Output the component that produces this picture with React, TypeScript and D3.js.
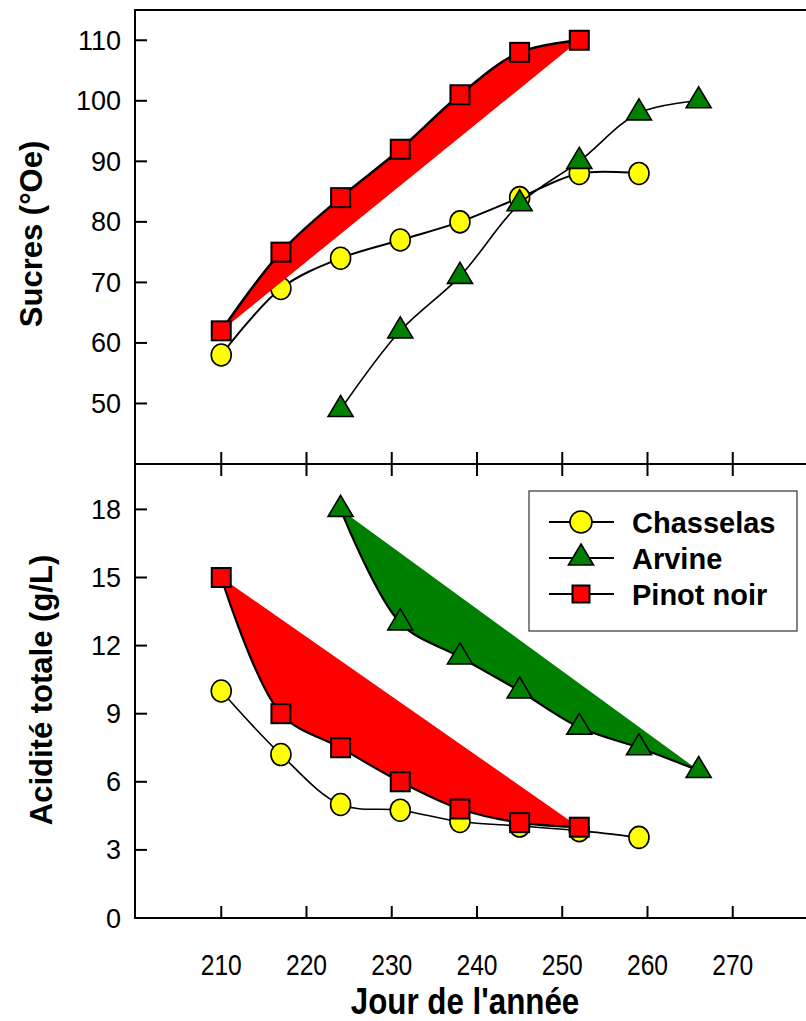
import React from "react";
import * as d3 from "d3";

const chasselasDays = [210, 217, 224, 231, 238, 245, 252, 259];
const arvineDays = [224, 231, 238, 245, 252, 259, 266];
const pinotDays = [210, 217, 224, 231, 238, 245, 252];

const chasselasSucres = [58, 69, 74, 77, 80, 84, 88, 88];
const arvineSucres = [49, 62, 71, 83, 90, 98, 100];
const pinotSucres = [62, 75, 84, 92, 101, 108, 110];

const chasselasAcid = [10.0, 7.2, 5.0, 4.75, 4.25, 4.05, 3.85, 3.55];
const arvineAcid = [18, 13, 11.5, 10, 8.4, 7.5, 6.5];
const pinotAcid = [15, 9, 7.5, 6, 4.8, 4.2, 4.0];

const xTicks = [210, 220, 230, 240, 250, 260, 270];
const sucresTicks = [50, 60, 70, 80, 90, 100, 110];
const acidTicks = [0, 3, 6, 9, 12, 15, 18];

const legendNames = ["Chasselas", "Arvine", "Pinot noir"];

const W = 806;
const H = 1021;
const FONT = "'Liberation Sans', Arial, Helvetica, sans-serif";
const YELLOW = "#FFFF00";
const GREEN = "#008000";
const RED = "#FF0000";

const left = 135;
const right = 818;
const topY0 = 10;
const midY = 464;
const botY1 = 918;
const TICK = 12;
const TICK_FS = 27;

const x = d3.scaleLinear().domain([200, 280]).range([136, 818]);
const yTop = d3.scaleLinear().domain([40, 115]).range([midY, topY0]);
const yBot = d3.scaleLinear().domain([0, 20]).range([botY1, midY]);

type Pt = [number, number];

function pts(days: number[], vals: number[], y: d3.ScaleLinear<number, number>): Pt[] {
  return days.map((d, i) => [x(d), y(vals[i])] as Pt);
}

const lineGen = d3.line<Pt>().x((p) => p[0]).y((p) => p[1]).curve(d3.curveCatmullRom.alpha(0.5));

function Circle({ cx, cy, rx = 10, ry = 11 }: { cx: number; cy: number; rx?: number; ry?: number }) {
  return <ellipse cx={cx} cy={cy} rx={rx} ry={ry} fill={YELLOW} stroke="#000" strokeWidth={1.6} />;
}
function Square({ cx, cy, s = 19 }: { cx: number; cy: number; s?: number }) {
  return <rect x={cx - s / 2} y={cy - s / 2} width={s} height={s} fill={RED} stroke="#000" strokeWidth={2} />;
}
function Triangle({ cx, cy, w = 25, h = 21 }: { cx: number; cy: number; w?: number; h?: number }) {
  const d = `M${cx},${cy - (h * 2) / 3}L${cx + w / 2},${cy + h / 3}L${cx - w / 2},${cy + h / 3}Z`;
  return <path d={d} fill={GREEN} stroke="#000" strokeWidth={1.6} strokeLinejoin="miter" />;
}

function Series({
  points,
  marker,
  fill,
  width,
}: {
  points: Pt[];
  marker: "c" | "t" | "s";
  fill?: string;
  width: number;
}) {
  const d = lineGen(points) || "";
  return (
    <g>
      {fill && <path d={d + "Z"} fill={fill} stroke="none" />}
      <path d={d} fill="none" stroke="#000" strokeWidth={width} />
      {points.map((p, i) =>
        marker === "c" ? (
          <Circle key={i} cx={p[0]} cy={p[1]} />
        ) : marker === "t" ? (
          <Triangle key={i} cx={p[0]} cy={p[1]} />
        ) : (
          <Square key={i} cx={p[0]} cy={p[1]} />
        )
      )}
    </g>
  );
}

export default function App() {
  const topC = pts(chasselasDays, chasselasSucres, yTop);
  const topA = pts(arvineDays, arvineSucres, yTop);
  const topP = pts(pinotDays, pinotSucres, yTop);
  const botC = pts(chasselasDays, chasselasAcid, yBot);
  const botA = pts(arvineDays, arvineAcid, yBot);
  const botP = pts(pinotDays, pinotAcid, yBot);

  const legX = 529;
  const legY = 491;
  const rows = [522, 558, 594];

  return (
    <svg
      width={W}
      height={H}
      viewBox={`0 0 ${W} ${H}`}
      style={{ position: "absolute", left: 0, top: 0, background: "#fff" }}
      fontFamily={FONT}
    >
      <rect x={0} y={0} width={W} height={H} fill="#fff" />

      <rect x={left} y={topY0} width={right - left} height={midY - topY0} fill="none" stroke="#000" strokeWidth={2} />
      <rect x={left} y={midY} width={right - left} height={botY1 - midY} fill="none" stroke="#000" strokeWidth={2} />

      {sucresTicks.map((t) => (
        <g key={"st" + t}>
          <line x1={left} x2={left + TICK} y1={yTop(t)} y2={yTop(t)} stroke="#000" strokeWidth={2} />
          <line x1={right} x2={right - TICK} y1={yTop(t)} y2={yTop(t)} stroke="#000" strokeWidth={2} />
          <text x={121} y={yTop(t) + 9.5} textAnchor="end" fontSize={TICK_FS}>
            {t}
          </text>
        </g>
      ))}
      {xTicks.map((t) => (
        <g key={"xt" + t}>
          <line x1={x(t)} x2={x(t)} y1={midY} y2={midY - TICK} stroke="#000" strokeWidth={2} />
          <line x1={x(t)} x2={x(t)} y1={midY} y2={midY + TICK} stroke="#000" strokeWidth={2} />
          <line x1={x(t)} x2={x(t)} y1={botY1} y2={botY1 - TICK} stroke="#000" strokeWidth={2} />
          <text transform={`translate(${x(t)},975) scale(0.85,1)`} textAnchor="middle" fontSize={29}>
            {t}
          </text>
        </g>
      ))}
      {acidTicks.map((t) => (
        <g key={"at" + t}>
          {t > 0 && <line x1={left} x2={left + TICK} y1={yBot(t)} y2={yBot(t)} stroke="#000" strokeWidth={2} />}
          <text x={121} y={yBot(t) + 9.5} textAnchor="end" fontSize={TICK_FS}>
            {t}
          </text>
        </g>
      ))}

      <Series points={topC} marker="c" width={2} />
      <Series points={topA} marker="t" width={1.6} />
      <Series points={topP} marker="s" fill={RED} width={2.5} />

      <Series points={botC} marker="c" width={1.6} />
      <Series points={botA} marker="t" fill={GREEN} width={2.2} />
      <Series points={botP} marker="s" fill={RED} width={2.2} />

      <rect x={legX} y={legY} width={268} height={140} fill="#fff" stroke="#333" strokeWidth={1.2} />
      {legendNames.map((n, i) => (
        <g key={n}>
          <line x1={549} x2={614} y1={rows[i]} y2={rows[i]} stroke="#000" strokeWidth={2} />
          {i === 0 && <Circle cx={581} cy={rows[i]} rx={11} ry={11} />}
          {i === 1 && <Triangle cx={581} cy={rows[i]} />}
          {i === 2 && <Square cx={581} cy={rows[i]} s={17} />}
          <text x={632} y={rows[i] + 10.5} fontSize={29} fontWeight="bold">
            {n}
          </text>
        </g>
      ))}

      <text transform={`translate(42,234) rotate(-90)`} textAnchor="middle" fontSize={31} fontWeight="bold">
        Sucres (°Oe)
      </text>
      <text transform={`translate(52,690) rotate(-90)`} textAnchor="middle" fontSize={31} fontWeight="bold">
        Acidité totale (g/L)
      </text>
      <text transform="translate(465,1014) scale(0.87,1)" textAnchor="middle" fontSize={36} fontWeight="bold">
        Jour de l'année
      </text>
    </svg>
  );
}
